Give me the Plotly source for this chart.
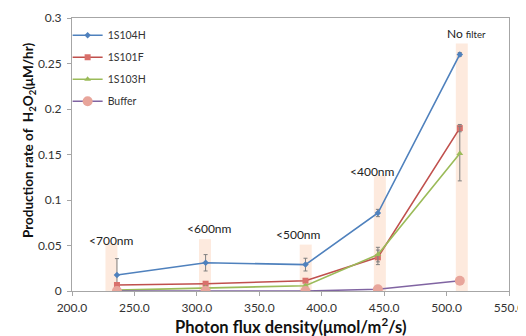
import plotly.graph_objects as go

x_vals = [236, 307, 387, 445, 510.6]
s104h = [0.0176, 0.031, 0.029, 0.0857, 0.260]
s104h_err = [0.018, 0.009, 0.007, 0.004, 0.002]
s101f = [0.0066, 0.008, 0.0113, 0.037, 0.179]
s101f_err = [0.002, 0.002, 0.002, 0.008, 0.004]
s103h = [0.001, 0.0035, 0.0058, 0.040, 0.151]
s103h_err = [0.001, 0.002, 0.001, 0.008, 0.030]
buffer = [0.0, 0.0, 0.0, 0.002, 0.0113]
buffer_err = [0, 0, 0, 0.001, 0.001]

band_centers = [231.6, 306.5, 387.2, 446.6, 512.2]
band_tops = [0.052, 0.057, 0.051, 0.127, 0.272]
band_labels = ["&lt;700nm", "&lt;600nm", "&lt;500nm", "&lt;400nm",
               "No <span style='font-size:9.5px'>filter</span>"]
label_x = [232, 310.5, 381.7, 441, 516]
label_y = [0.0553, 0.0685, 0.0626, 0.131, 0.2835]

FONT = "Lato"
fig = go.Figure()

shapes = []
for c, t in zip(band_centers, band_tops):
    shapes.append(dict(type="rect", xref="x", yref="y", x0=c - 4.8, x1=c + 4.8, y0=0, y1=t,
                       fillcolor="rgba(251,220,200,0.6)", line=dict(width=0), layer="below"))

def add(name, y, err, color, symbol, msize, mcolor, width=1.6):
    fig.add_trace(go.Scatter(
        x=x_vals, y=y, name=name, mode="lines+markers", legendgroup=name,
        line=dict(color=color, width=width),
        marker=dict(symbol=symbol, size=msize, color=mcolor, line=dict(width=0)),
        error_y=dict(type="data", array=err, visible=True, color="#7f7f7f", thickness=1, width=2),
    ))

add("1S104H", s104h, s104h_err, "#4F81BD", "diamond", 5, "#4F81BD")
add("1S101F", s101f, s101f_err, "#C0504D", "square", 6, "#D9706B")
add("1S103H", s103h, s103h_err, "#9BBB59", "triangle-up", 6, "#9BBB59")
add("Buffer", buffer, buffer_err, "#8064A2", "circle", 10, "#E8A59B")

annotations = []
for lx, ly, txt in zip(label_x, label_y, band_labels):
    annotations.append(dict(x=lx, y=ly, xref="x", yref="y", text=txt, showarrow=False,
                            font=dict(family=FONT, size=12, color="#222"), yanchor="middle"))

annotations.append(dict(x=0.5, y=-0.128, xref="paper", yref="paper", showarrow=False,
                        xanchor="center", yanchor="middle",
                        text="<b>Photon flux density(μmol/m<sup>2</sup>/s)</b>",
                        font=dict(family=FONT, size=16.5, color="#111")))
annotations.append(dict(x=-0.098, y=0.55, xref="paper", yref="paper", showarrow=False,
                        xanchor="center", yanchor="middle", textangle=-90,
                        text="<b>Production rate of  H<sub>2</sub>O<sub>2</sub>(μM/hr)</b>",
                        font=dict(family=FONT, size=13.5, color="#111")))

axis_common = dict(showline=True, linecolor="#A6A6A6", linewidth=1, mirror=True, automargin=False,
                   ticks="outside", ticklen=4, tickcolor="#A6A6A6", showgrid=False, zeroline=False,
                   tickfont=dict(family=FONT, size=12, color="#333"))

fig.update_layout(
    width=518, height=328,
    margin=dict(l=64, r=17, t=10, b=45),
    plot_bgcolor="white", paper_bgcolor="white",
    shapes=shapes, annotations=annotations,
    showlegend=True,
    legend=dict(x=-0.01, y=0.99, xanchor="left", yanchor="top", bgcolor="rgba(0,0,0,0)",
                font=dict(family=FONT, size=10.5, color="#333"), tracegroupgap=3),
    xaxis=dict(range=[200, 550], tickvals=[200, 250, 300, 350, 400, 450, 500, 550],
               ticktext=["200.0", "250.0", "300.0", "350.0", "400.0", "450.0", "500.0", "550.0"],
               ticklabelstandoff=2, **axis_common),
    yaxis=dict(range=[0, 0.3], tickvals=[0, 0.05, 0.1, 0.15, 0.2, 0.25, 0.3],
               ticktext=["0", "0.05", "0.1", "0.15", "0.2", "0.25", "0.3"],
               ticklabelstandoff=3, **axis_common),
)

fig.write_html("out.html")
